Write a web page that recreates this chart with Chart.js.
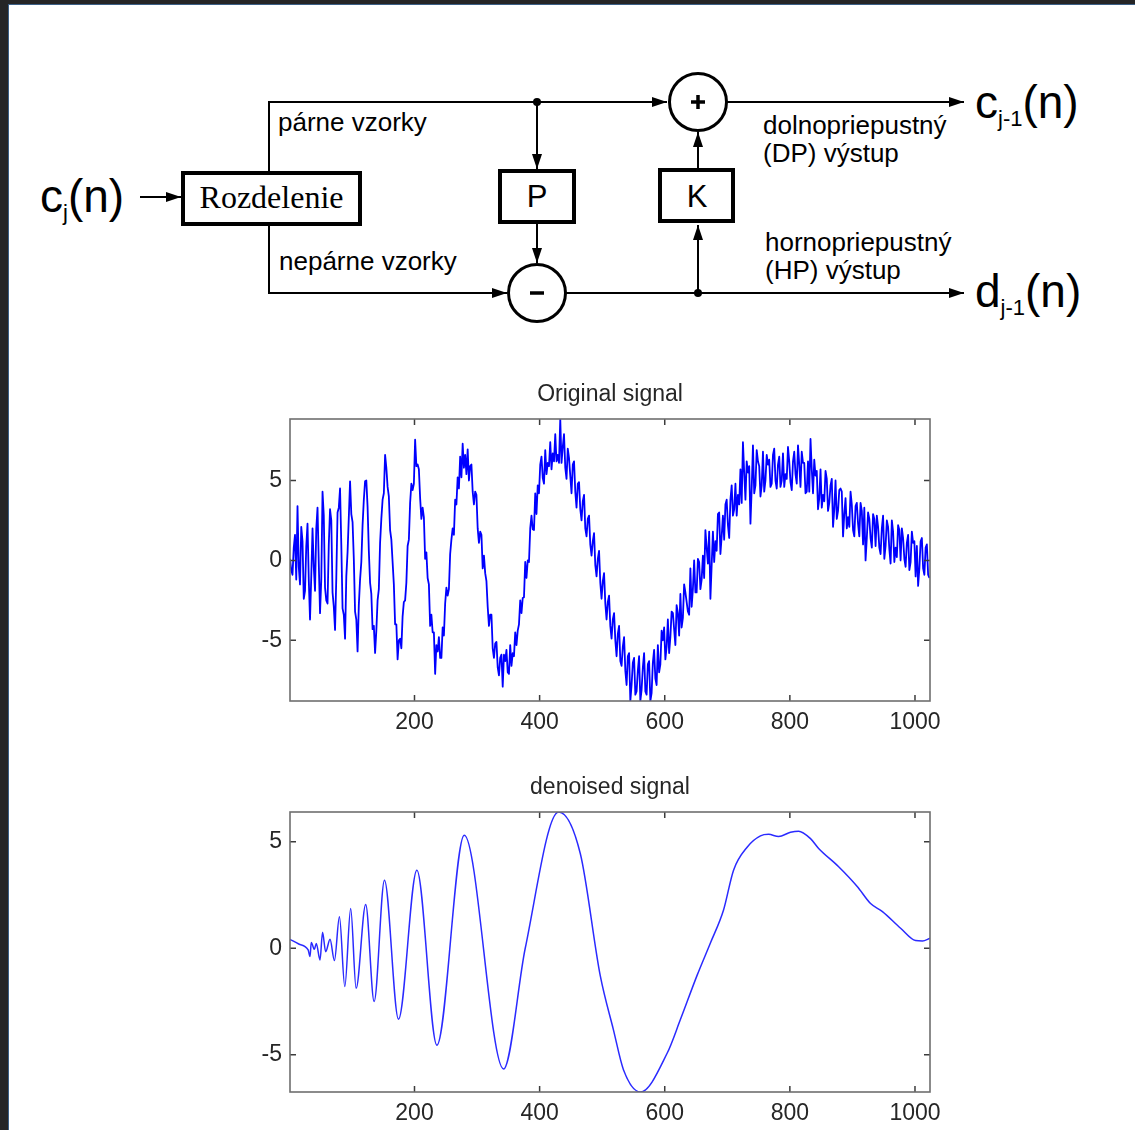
<!DOCTYPE html>
<html>
<head>
<meta charset="utf-8">
<title>Lifting scheme and denoising</title>
<script src="https://cdn.jsdelivr.net/npm/chart.js@4.4.1/dist/chart.umd.min.js"></script>
<style>
  html, body { margin: 0; padding: 0; }
  body {
    width: 1135px; height: 1130px; position: relative; overflow: hidden;
    background: #252526;
    font-family: "Liberation Sans", Arial, sans-serif;
  }
  #sheet {
    position: absolute; left: 8px; top: 4px; right: 0; bottom: 0;
    background: #fff;
    border-left: 1px solid #3b5f86; border-top: 1px solid #3b5f86;
  }
  #scheme { position: absolute; left: 0; top: 0; }
  canvas { position: absolute; }
  #origChart { left: 230px; top: 380px; }
  #denChart { left: 230px; top: 772px; }
</style>
</head>
<body>
<div id="sheet"></div>

<!-- lifting step: split, predict (P), update (K) -->
<svg id="scheme" width="1135" height="340" xmlns="http://www.w3.org/2000/svg">
  <defs>
    <marker id="ah" markerWidth="15" markerHeight="10" refX="15" refY="5" orient="auto" markerUnits="userSpaceOnUse">
      <path d="M0,0 L15,5 L0,10 z" fill="#000"/>
    </marker>
  </defs>
  <g stroke="#000" stroke-width="2" fill="none">
    <line x1="140" y1="197" x2="181" y2="197" marker-end="url(#ah)"/>
    <polyline points="269,171 269,102 667,102" marker-end="url(#ah)"/>
    <line x1="537" y1="102" x2="537" y2="169" marker-end="url(#ah)"/>
    <line x1="537" y1="224" x2="537" y2="263" marker-end="url(#ah)"/>
    <polyline points="269,226 269,293 507,293" marker-end="url(#ah)"/>
    <line x1="566" y1="293" x2="964" y2="293" marker-end="url(#ah)"/>
    <line x1="698" y1="293" x2="698" y2="225" marker-end="url(#ah)"/>
    <line x1="698" y1="168" x2="698" y2="132" marker-end="url(#ah)"/>
    <line x1="727" y1="102" x2="964" y2="102" marker-end="url(#ah)"/>
  </g>
  <g stroke="#000" fill="none" stroke-width="4">
    <rect x="183" y="173" width="177" height="51"/>
    <rect x="500" y="171" width="74" height="51"/>
    <rect x="660" y="170" width="73" height="51"/>
  </g>
  <g stroke="#000" fill="none" stroke-width="3">
    <circle cx="537" cy="293" r="28.5"/>
    <circle cx="698" cy="102" r="28.5"/>
  </g>
  <g stroke="#000" stroke-width="3.5">
    <line x1="530" y1="293" x2="544" y2="293"/>
    <line x1="691" y1="102" x2="705" y2="102"/>
    <line x1="698" y1="95" x2="698" y2="109"/>
  </g>
  <circle cx="537" cy="102" r="4" fill="#000"/>
  <circle cx="698" cy="293" r="4" fill="#000"/>

  <g font-family="Liberation Sans, Arial, sans-serif" fill="#000">
    <text x="40" y="212" font-size="46">c<tspan font-size="22" dy="8">j</tspan><tspan dy="-8">(n)</tspan></text>
    <text x="975" y="118" font-size="46">c<tspan font-size="22" dy="8">j-1</tspan><tspan dy="-8">(n)</tspan></text>
    <text x="975" y="307" font-size="46">d<tspan font-size="22" dy="8">j-1</tspan><tspan dy="-8">(n)</tspan></text>
    <text x="537" y="207" font-size="31" text-anchor="middle">P</text>
    <text x="697" y="207" font-size="31" text-anchor="middle">K</text>
    <text x="278" y="131" font-size="26">párne vzorky</text>
    <text x="279" y="270" font-size="26">nepárne vzorky</text>
    <text x="763" y="134" font-size="26">dolnopriepustný</text>
    <text x="763" y="162" font-size="26">(DP) výstup</text>
    <text x="765" y="251" font-size="26">hornopriepustný</text>
    <text x="765" y="279" font-size="26">(HP) výstup</text>
  </g>
  <text x="271.5" y="208" font-family="Liberation Serif, Times New Roman, serif" font-size="32" text-anchor="middle">Rozdelenie</text>
</svg>

<canvas id="origChart" width="730" height="365"></canvas>
<canvas id="denChart" width="730" height="364"></canvas>

<script>
// noisy input, one value every 2nd sample (n = 1, 3, 5, ... 1023)
const origStep = 2;
const origSignal = [
  0.1, -0.6, -0.9, 0.8, 1.6, -1.2, 3.4, -0.4, -1.5, 2.1, 1.2, -2.4, -1.9, 0.9, 2.3, -1.2,
  -3.7, -1.0, 2.0, -0.4, -1.9, 2.0, 3.3, -0.2, -3.3, -1.2, 4.3, 2.8, -1.7, -2.5, -2.7, 1.0,
  3.2, 2.5, -2.0, -2.9, -4.35, -1.1, 3.0, 3.3, 4.5, 1.0, -3.0, -3.4, -4.9, -1.0, 0.5, 2.7,
  4.95, 2.9, 2.4, 0.1, -3.2, -3.7, -5.7, -2.8, -1.2, -0.1, 2.2, 3.8, 4.95, 5.0, 3.35, 0.6,
  -1.4, -2.1, -4.3, -4.1, -5.8, -4.4, -2.5, -1.8, 1.1, 2.6, 3.8, 4.2, 6.6, 5.8, 4.6, 4.0,
  1.9, 1.3, -0.1, -1.5, -4.0, -4.0, -6.2, -5.0, -4.9, -5.5, -3.5, -2.6, -2.5, -1.4, 0.9, 1.3,
  3.6, 4.8, 4.4, 4.8, 7.55, 5.9, 6.0, 5.7, 3.9, 2.6, 3.3, 2.7, 0.1, 0.5, -1.1, -1.5,
  -4.1, -3.4, -4.5, -4.5, -7.1, -5.3, -5.7, -4.8, -6.1, -6.1, -4.2, -4.7, -2.7, -1.7, -2.2, -1.8,
  0.4, 1.3, 2.0, 1.6, 3.8, 3.5, 5.2, 4.5, 6.5, 5.2, 7.3, 5.8, 6.6, 5.4, 6.95, 5.0,
  5.9, 6.0, 4.3, 3.5, 4.3, 4.1, 2.0, 1.1, 1.8, 1.6, -0.5, 0.3, -0.8, -1.3, -2.9, -4.1,
  -3.4, -3.4, -5.5, -6.1, -5.2, -5.1, -6.7, -7.2, -6.1, -5.9, -7.9, -5.9, -6.3, -5.6, -7.0, -7.1,
  -5.3, -6.6, -5.8, -6.0, -4.5, -5.3, -4.4, -4.0, -2.5, -3.3, -2.35, -2.3, -0.1, -1.1, 0.0, -0.1,
  2.0, 2.8, 1.95, 1.9, 4.2, 2.9, 4.7, 4.2, 6.0, 6.5, 5.15, 4.8, 6.9, 5.4, 6.1, 5.9,
  7.4, 5.7, 6.7, 6.2, 7.9, 6.2, 6.6, 6.1, 8.85, 6.1, 7.1, 7.9, 5.8, 5.1, 7.0, 6.4,
  5.3, 4.2, 6.0, 6.2, 4.3, 3.3, 4.8, 4.9, 3.2, 2.5, 3.7, 4.1, 2.0, 1.5, 2.6, 2.8,
  1.0, 0.3, 1.2, 1.7, -0.3, -1.0, 0.1, 0.6, -1.4, -2.4, -1.3, -0.8, -2.7, -3.7, -2.6, -2.2,
  -4.1, -4.9, -3.7, -3.3, -5.0, -6.0, -4.6, -4.1, -6.3, -6.6, -5.4, -4.8, -6.9, -7.8, -6.0, -5.8,
  -8.8, -7.8, -6.4, -6.1, -8.4, -8.2, -6.9, -6.0, -8.8, -8.1, -6.7, -5.8, -8.2, -8.4, -6.5, -6.3,
  -8.8, -8.3, -6.4, -5.6, -7.4, -7.8, -5.3, -7.0, -6.5, -4.4, -5.0, -4.2, -6.2, -5.4, -3.7, -5.8,
  -4.8, -3.2, -3.3, -4.3, -5.3, -2.8, -3.3, -4.7, -2.1, -4.2, -3.6, -1.5, -2.0, -2.6, -3.2, -3.4,
  -0.5, -2.9, -1.8, 0.0, -2.0, -2.0, 0.1, -0.1, -1.8, -1.2, 0.3, -1.1, 1.9, 0.8, -0.2, 1.8,
  -2.4, -0.3, 1.8, -0.1, 1.2, 0.6, 2.9, 3.0, 0.4, 1.5, 2.8, 1.3, 3.5, 3.8, 2.2, 1.4,
  3.8, 4.7, 2.8, 3.2, 4.8, 2.8, 4.1, 3.5, 5.7, 3.6, 7.4, 5.5, 3.8, 6.2, 5.5, 5.9,
  2.3, 4.5, 7.2, 4.2, 4.7, 6.9, 6.2, 5.9, 4.0, 4.7, 6.8, 4.3, 5.0, 6.6, 6.0, 6.3,
  4.6, 4.8, 6.6, 7.0, 5.0, 4.5, 6.0, 6.5, 4.6, 5.0, 6.7, 4.6, 5.4, 5.1, 7.1, 6.2,
  4.9, 4.4, 6.2, 6.8, 5.4, 4.8, 7.2, 6.0, 4.6, 6.8, 6.1, 6.1, 4.2, 4.3, 6.2, 4.3,
  7.6, 5.7, 4.2, 6.3, 5.3, 5.6, 3.2, 3.9, 5.7, 3.3, 4.1, 3.7, 5.6, 5.1, 3.1, 3.6,
  4.7, 5.1, 2.1, 3.2, 5.0, 2.6, 3.1, 4.4, 4.5, 4.3, 1.5, 2.9, 3.9, 2.0, 2.7, 2.1,
  4.3, 3.5, 1.9, 1.5, 3.4, 3.6, 2.3, 1.5, 3.6, 3.1, 1.0, 3.3, 0.0, 1.4, 3.0, 2.6,
  1.4, 0.8, 2.9, 2.6, 0.9, 2.8, 2.1, 0.8, 0.4, 2.0, 2.8, 0.1, 0.9, 2.5, 2.1, 0.7,
  -0.2, 2.5, 1.8, -0.1, 0.8, 0.2, 2.2, 1.9, 0.0, 2.0, 1.4, 0.1, -0.4, 1.1, 1.6, -0.6,
  -0.1, 1.8, 1.1, 1.2, -1.0, 0.9, -1.6, -0.5, 1.2, 1.4, -0.5, -0.9, 0.8, 1.0, -0.9, -1.1
];

// denoised output: extrema and a few points along the slopes
const denoisedN = [1, 15, 30, 33, 35, 40, 43, 49, 53, 58, 65, 72, 80, 88.6, 98, 106.7,
  122, 135.5, 152, 174.4, 203.8, 235.8, 279.5, 342.4, 377, 430.4, 465, 497, 518, 534, 561,
  604, 625, 652, 673, 694, 710, 732, 753, 766, 782, 801, 814, 833, 846, 878, 908, 929,
  948, 977, 1001, 1012, 1024];
const denoisedV = [0.42, 0.2, -0.08, -0.39, 0.27, -0.05, 0.23, -0.55, 0.75, -0.16, 0.42, -0.58, 1.48, -1.8, 1.87, -1.88,
  2.06, -2.5, 3.2, -3.33, 3.67, -4.55, 5.31, -5.67, 0.0, 6.4, 4.45, -1.3, -3.83, -5.7, -6.75,
  -4.92, -3.35, -1.25, 0.25, 1.8, 3.67, 4.76, 5.28, 5.35, 5.25, 5.45, 5.5, 5.15, 4.69, 3.83, 2.89, 2.1,
  1.72, 0.94, 0.36, 0.34, 0.47];

const nRange = [1, 1024];
const origRange = [-8.8, 8.85];
const denoisedRange = [-6.75, 6.4];
const xTicks = [200, 400, 600, 800, 1000];
const yTicks = [-5, 0, 5];

const FONT = '"Liberation Sans", Arial, sans-serif';
const TEXT = '#262626';

// MATLAB style frame: box, inward ticks on every side, title above
const matlabAxes = {
  id: 'matlabAxes',
  afterDraw(chart, args, opts) {
    const { ctx, chartArea: a, scales: { x, y } } = chart;
    ctx.save();
    ctx.fillStyle = TEXT;
    ctx.font = '23px ' + FONT;
    ctx.textAlign = 'center';
    ctx.textBaseline = 'alphabetic';
    ctx.fillText(opts.title, (a.left + a.right) / 2, a.top - 18);

    ctx.strokeStyle = '#3c3c3c';
    ctx.lineWidth = 1.5;
    ctx.beginPath();
    x.ticks.forEach(t => {
      const px = x.getPixelForValue(t.value);
      ctx.moveTo(px, a.bottom); ctx.lineTo(px, a.bottom - 6);
      ctx.moveTo(px, a.top); ctx.lineTo(px, a.top + 6);
    });
    y.ticks.forEach(t => {
      const py = y.getPixelForValue(t.value);
      ctx.moveTo(a.left, py); ctx.lineTo(a.left + 6, py);
      ctx.moveTo(a.right, py); ctx.lineTo(a.right - 6, py);
    });
    ctx.stroke();

    ctx.strokeStyle = '#6f6f6f';
    ctx.lineWidth = 1.6;
    ctx.strokeRect(a.left, a.top, a.right - a.left, a.bottom - a.top);
    ctx.restore();
  }
};

function axes(range) {
  return {
    x: {
      type: 'linear', min: nRange[0], max: nRange[1],
      afterBuildTicks: s => { s.ticks = xTicks.map(v => ({ value: v })); },
      afterFit: s => { s.height = 44; },
      grid: { display: false, drawTicks: false },
      border: { display: false },
      ticks: {
        color: TEXT, font: { size: 23, family: FONT }, padding: 8,
        maxRotation: 0, autoSkip: false, callback: v => String(v)
      }
    },
    y: {
      type: 'linear', min: range[0], max: range[1],
      afterBuildTicks: s => { s.ticks = yTicks.map(v => ({ value: v })); },
      afterFit: s => { s.width = 60; },
      grid: { display: false, drawTicks: false },
      border: { display: false },
      ticks: { color: TEXT, font: { size: 23, family: FONT }, padding: 8, callback: v => String(v) }
    }
  };
}

function baseOptions(range, title, top) {
  return {
    responsive: false,
    animation: false,
    events: [],
    layout: { padding: { left: 0, right: 30, top: top, bottom: 0 } },
    plugins: { legend: { display: false }, tooltip: { enabled: false }, matlabAxes: { title } },
    scales: axes(range)
  };
}

new Chart(document.getElementById('origChart'), {
  type: 'line',
  data: {
    datasets: [{
      data: origSignal.map((v, i) => ({ x: nRange[0] + i * origStep, y: v })),
      borderColor: '#0000ff',
      borderWidth: 1.8,
      borderJoinStyle: 'round',
      pointRadius: 0,
      tension: 0
    }]
  },
  options: baseOptions(origRange, 'Original signal', 39),
  plugins: [matlabAxes]
});

new Chart(document.getElementById('denChart'), {
  type: 'line',
  data: {
    datasets: [{
      data: denoisedN.map((n, i) => ({ x: n, y: denoisedV[i] })),
      borderColor: '#2a2aff',
      borderWidth: 1.5,
      pointRadius: 0,
      cubicInterpolationMode: 'monotone'
    }]
  },
  options: baseOptions(denoisedRange, 'denoised signal', 40),
  plugins: [matlabAxes]
});
</script>
</body>
</html>
